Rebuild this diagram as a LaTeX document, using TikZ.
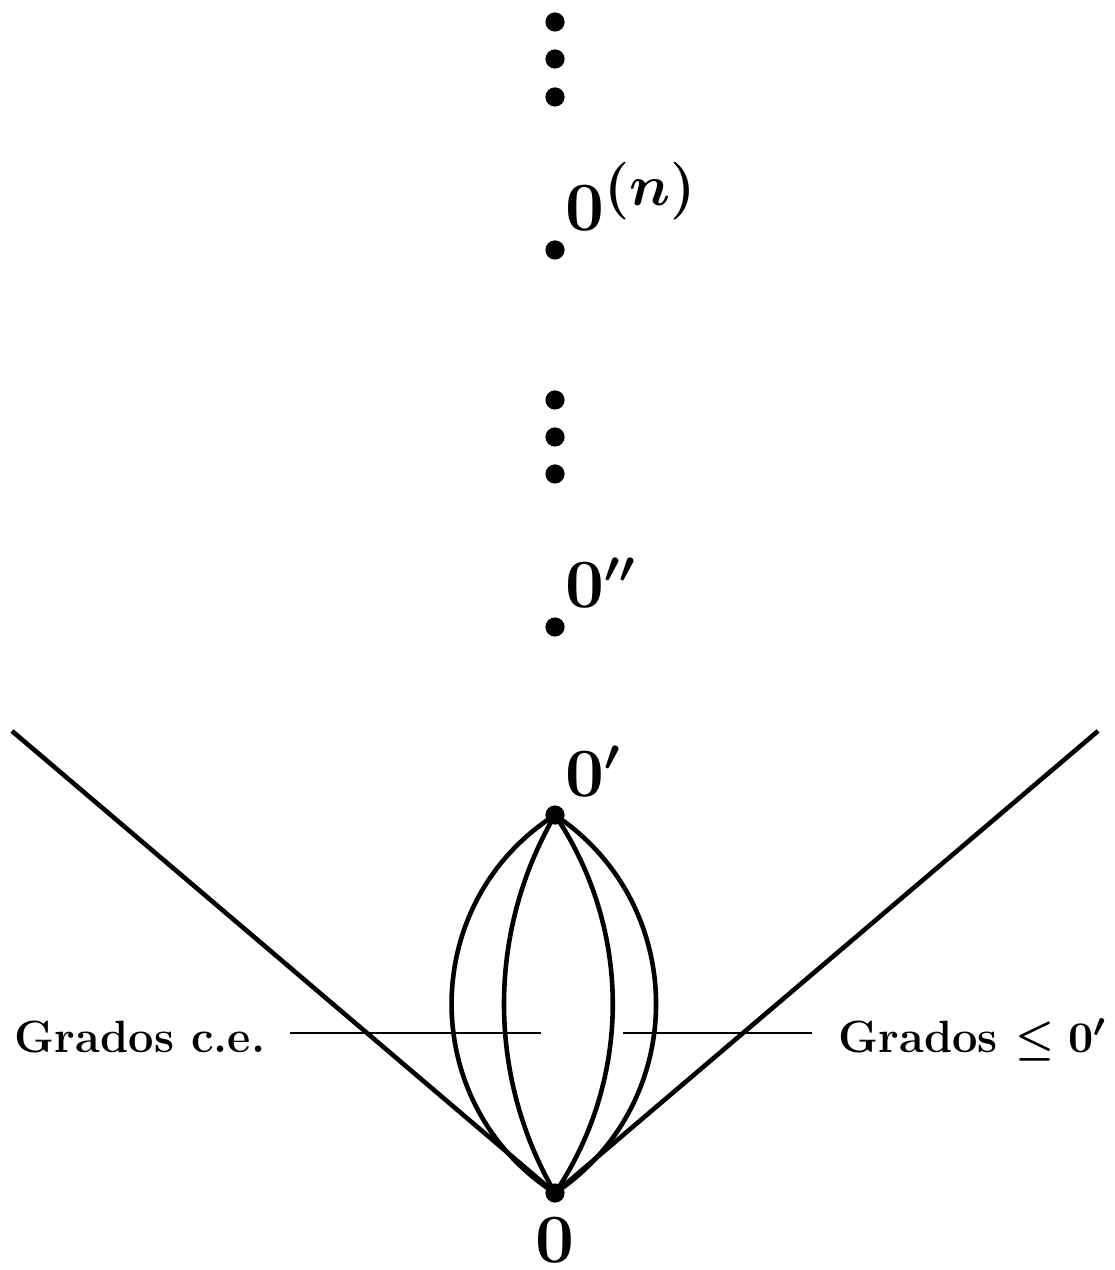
\documentclass[tikz,border=0pt]{standalone}
\usetikzlibrary{calc}
\begin{document}
\begin{tikzpicture}[x=0.25pt,y=-0.25pt,
  dot/.style={circle,fill=black,inner sep=0pt,minimum size=4.8pt},
  big/.style={inner sep=0pt,font=\fontsize{16}{19}\selectfont\bfseries\boldmath},
  lbl/.style={inner sep=0pt,font=\fontsize{11.3}{14}\selectfont\bfseries\boldmath},
  thick line/.style={line width=1.15pt},
  thin line/.style={line width=0.45pt}]
\useasboundingbox (0,0) rectangle (1114,1270);
% points
\node[dot] (z) at (555,1193) {};
\node[dot] (zp) at (555,815) {};
\node[dot] (zpp) at (555,627) {};
\node[dot] (zn) at (555,250) {};
\node[dot] (m1) at (555,400) {};
\node[dot] (m2) at (555,437) {};
\node[dot] (m3) at (555,474) {};
\node[dot] (t1) at (555,22) {};
\node[dot] (t2) at (555,59) {};
\node[dot] (t3) at (555,97) {};
% labels of points
\node[big,anchor=base] (lz) at (555,1262) {$0$};
\node[big,anchor=base west] (lzp) at ($(zp)+(10,-19)$) {$0'$};
\node[big,anchor=base west] (lzpp) at ($(zpp)+(10,-19)$) {$0''$};
\node[big,anchor=base west] (lzn) at ($(zn)+(10,-19)$) {$0^{\mbox{\fontsize{14}{16}\selectfont$(n)$}}$};
% cone
\coordinate (ltop) at (12,731);
\coordinate (rtop) at (1098,731);
\draw[thick line] (ltop) -- (z.center) -- (rtop);
% lens
\draw[thick line] (z.center) .. controls ($(z.center)+(-137.9,-88.2)$) and ($(zp.center)+(-137.9,88.2)$) .. (zp.center);
\draw[thick line] (z.center) .. controls ($(z.center)+(-68,-116.8)$) and ($(zp.center)+(-68,116.8)$) .. (zp.center);
\draw[thick line] (z.center) .. controls ($(z.center)+(77,-114.3)$) and ($(zp.center)+(77,114.3)$) .. (zp.center);
\draw[thick line] (z.center) .. controls ($(z.center)+(134.7,-90)$) and ($(zp.center)+(134.7,90)$) .. (zp.center);
% side labels
\node[lbl,anchor=base east] (gce) at (266,1052) {Grados c.e.};
\node[lbl,anchor=base west] (gle) at (838,1052) {Grados $\leq 0'$};
\coordinate (la) at (290,1033);
\coordinate (lb) at (541,1033);
\coordinate (ra) at (623,1033);
\coordinate (rb) at (812,1033);
\draw[thin line] (la) -- (lb);
\draw[thin line] (ra) -- (rb);
\end{tikzpicture}
\end{document}
